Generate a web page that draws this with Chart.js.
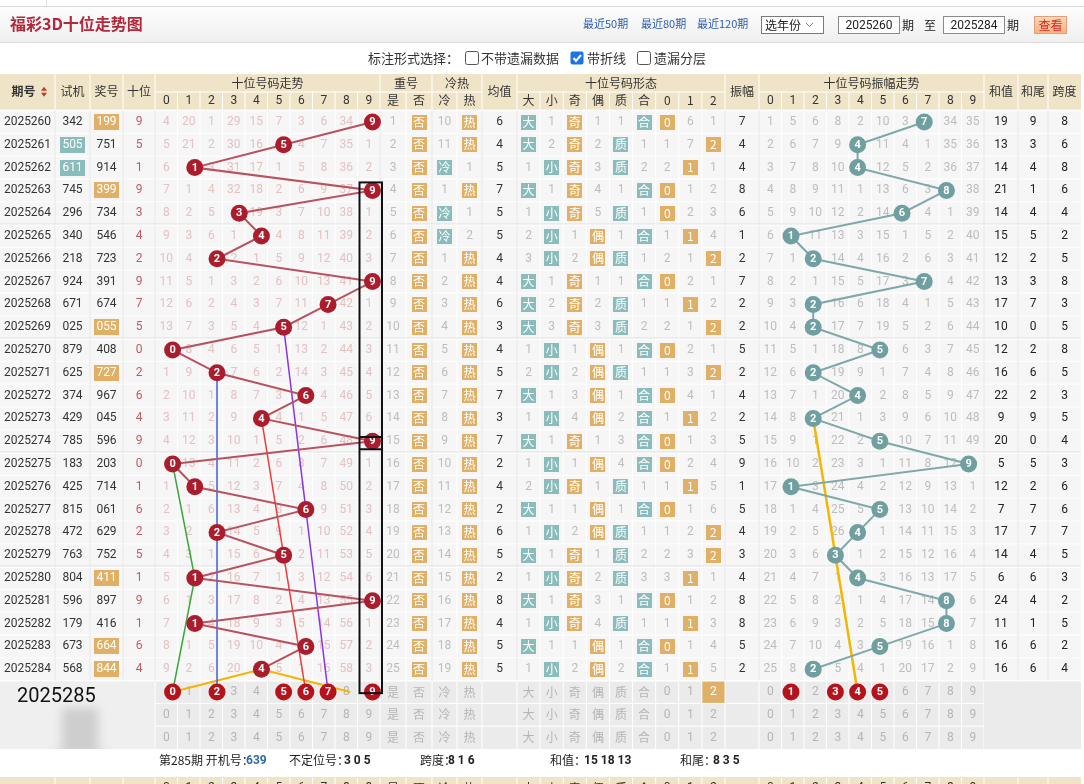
<!DOCTYPE html>
<html lang="zh-CN">
<head>
<meta charset="utf-8">
<title>福彩3D十位走势图</title>
<script src="https://cdn.jsdelivr.net/npm/chart.js@4.4.1/dist/chart.umd.min.js"></script>
<style>
  html, body { margin: 0; padding: 0; background: #fff; overflow: hidden; }
  canvas { display: block; }
</style>
</head>
<body>
<canvas id="trendChart" width="1084" height="784"></canvas>
<script>
// ===== Data =====
const issues = ["2025260","2025261","2025262","2025263","2025264","2025265","2025266","2025267","2025268","2025269",
  "2025270","2025271","2025272","2025273","2025274","2025275","2025276","2025277","2025278","2025279",
  "2025280","2025281","2025282","2025283","2025284"];
const testNums = ["342","505","611","745","296","340","218","924","671","025","879","625","374","429","785",
  "183","425","815","472","763","804","596","179","673","568"];
const drawNums = ["199","751","914","399","734","546","723","391","674","055","408","727","967","045","596",
  "203","714","061","629","752","411","897","416","664","844"];
const testPairRows = [1, 2];
const drawPairRows = [0, 3, 9, 11, 20, 23, 24];
const tens = [9,5,1,9,3,4,2,9,7,5,0,2,6,4,9,0,1,6,2,5,1,9,1,6,4];

// omission counts, 0 = the hit cell (drawn as a circle)
const tensMiss = [
  [4,20,1,29,15,7,3,6,34,0], [5,21,2,30,16,0,4,7,35,1], [6,0,3,31,17,1,5,8,36,2],
  [7,1,4,32,18,2,6,9,37,0], [8,2,5,0,19,3,7,10,38,1], [9,3,6,1,0,4,8,11,39,2],
  [10,4,0,2,1,5,9,12,40,3], [11,5,1,3,2,6,10,13,41,0], [12,6,2,4,3,7,11,0,42,1],
  [13,7,3,5,4,0,12,1,43,2], [0,8,4,6,5,1,13,2,44,3], [1,9,0,7,6,2,14,3,45,4],
  [2,10,1,8,7,3,0,4,46,5], [3,11,2,9,0,4,1,5,47,6], [4,12,3,10,1,5,2,6,48,0],
  [0,13,4,11,2,6,3,7,49,1], [1,0,5,12,3,7,4,8,50,2], [2,1,6,13,4,8,0,9,51,3],
  [3,2,0,14,5,9,1,10,52,4], [4,3,1,15,6,0,2,11,53,5], [5,0,2,16,7,1,3,12,54,6],
  [6,1,3,17,8,2,4,13,55,0], [7,0,4,18,9,3,5,14,56,1], [8,1,5,19,10,4,0,15,57,2],
  [9,2,6,20,0,5,1,16,58,3]
];
const repeatMiss = [1,2,3,4,5,6,7,8,9,10,11,12,13,14,15,16,17,18,19,20,21,22,23,24,25];
const coldMiss = [10,11,0,1,0,0,1,2,3,4,5,6,7,8,9,10,11,12,13,14,15,16,17,18,19];
const hotMiss  = [0,0,1,0,1,2,0,0,0,0,0,0,0,0,0,0,0,0,0,0,0,0,0,0,0];
const avgVals  = [6,4,5,7,5,5,4,4,6,3,4,5,7,3,7,2,4,2,6,5,2,8,4,5,5];
// form columns: 大 小 奇 偶 质 合 0 1 2  (0 = hit)
const bigMiss   = [0,0,1,0,1,2,3,0,0,0,1,2,0,1,0,1,2,0,1,0,1,0,1,0,1];
const smallMiss = [1,2,0,1,0,0,0,1,2,3,0,0,1,0,1,0,0,1,0,1,0,1,0,1,0];
const oddMiss   = [0,0,0,0,0,1,2,0,0,0,1,2,3,4,0,1,0,1,2,0,0,0,0,1,2];
const evenMiss  = [1,2,3,4,5,0,0,1,2,3,0,0,0,0,1,0,1,0,0,1,2,3,4,0,0];
const primeMiss = [1,0,0,1,0,1,0,1,0,0,1,0,1,2,3,4,0,1,0,0,0,1,0,1,2];
const compMiss  = [0,1,2,0,1,0,1,0,1,2,0,1,0,0,0,0,1,0,1,2,3,0,1,0,0];
const r0Miss    = [0,1,2,0,0,1,2,0,1,2,0,1,0,1,0,0,1,0,1,2,3,0,1,0,1];
const r1Miss    = [6,7,0,1,2,0,1,2,0,1,2,3,4,0,1,2,0,1,2,3,0,1,0,1,0];
const r2Miss    = [1,0,1,2,3,4,0,1,2,0,1,0,1,2,3,4,5,6,0,0,1,2,3,4,5];
const amps = [7,4,4,8,6,1,2,7,2,2,5,2,4,2,5,9,1,5,4,3,4,8,8,5,2];
const ampMiss = [
  [1,5,6,8,2,10,3,0,34,35], [2,6,7,9,0,11,4,1,35,36], [3,7,8,10,0,12,5,2,36,37],
  [4,8,9,11,1,13,6,3,0,38], [5,9,10,12,2,14,0,4,1,39], [6,0,11,13,3,15,1,5,2,40],
  [7,1,0,14,4,16,2,6,3,41], [8,2,1,15,5,17,3,0,4,42], [9,3,0,16,6,18,4,1,5,43],
  [10,4,0,17,7,19,5,2,6,44], [11,5,1,18,8,0,6,3,7,45], [12,6,0,19,9,1,7,4,8,46],
  [13,7,1,20,0,2,8,5,9,47], [14,8,0,21,1,3,9,6,10,48], [15,9,1,22,2,0,10,7,11,49],
  [16,10,2,23,3,1,11,8,12,0], [17,0,3,24,4,2,12,9,13,1], [18,1,4,25,5,0,13,10,14,2],
  [19,2,5,26,0,1,14,11,15,3], [20,3,6,0,1,2,15,12,16,4], [21,4,7,1,0,3,16,13,17,5],
  [22,5,8,2,1,4,17,14,0,6], [23,6,9,3,2,5,18,15,0,7], [24,7,10,4,3,0,19,16,1,8],
  [25,8,0,5,4,1,20,17,2,9]
];
const sums = [19,13,14,21,14,15,12,13,17,10,12,16,22,9,20,5,12,7,17,14,6,24,11,16,16];
const sumTails = [9,3,4,1,4,5,2,3,7,0,2,6,2,9,0,5,2,7,7,4,6,4,1,6,6];
const spans = [8,6,8,6,4,2,5,8,3,5,8,5,3,5,4,3,6,6,7,5,3,2,5,2,4];

// prediction row (2025285)
const nextIssue = "2025285";
const predTens = [0,2,5,6,7,9];
const predAmp = [1,3,4,5];
const predRemainder = 2;

// tick / header labels
const digitLabels = ["0","1","2","3","4","5","6","7","8","9"];
const repeatLabels = ["是","否"];
const coldLabels = ["冷","热"];
const formLabels = ["大","小","奇","偶","质","合","0","1","2"];

// hand-drawn guide lines: [digit, row]
const guideBlue   = [[2,11],[2,18],[2,25]];
const guidePurple = [[5,9],[6,17],[7,25]];
const guideRed    = [[4,13],[5,19],[6,25]];
const guideGreen  = [[0,15],[1,20],[0,25]];
const guideOrange = [[0,25],[4,24],[8,25]];
const guideAmp    = [[2,13],[3,19],[4,25]];

// ===== Layout =====
const W = 1084, H = 784, TABLE_W = 1081;
const TOP = 110.6, ROW_H = 22.8, ROWS = 28;
const FONT = "Roboto, 'Noto Sans CJK SC', sans-serif";
const CJK = "'Noto Sans CJK SC', sans-serif";
const colW = [55, 35, 33, 32]
  .concat(Array(10).fill(22.5), [26, 26, 25, 25, 35], Array(9).fill(208 / 9), [34], Array(10).fill(22.5), [34, 30, 33]);
const colX = [0];
colW.forEach(w => colX.push(colX[colX.length - 1] + w));
const TREND0 = 4, REP0 = 14, COLD0 = 16, AVG = 18, FORM0 = 19, AMP = 28, AMP0 = 29, SUM = 39, TAIL = 40, SPAN = 41;
const groupEdges = [1, 2, 3, 4, 14, 16, 18, 19, 28, 29, 39, 40, 41];
const cx = i => (colX[i] + colX[i + 1]) / 2;

const ORANGE = "#e0b066", TEAL = "#8bbcbc";

function txt(ctx, s, x, y, font, color, align) {
  ctx.font = font;
  ctx.fillStyle = color;
  ctx.textAlign = align || "center";
  ctx.textBaseline = "middle";
  ctx.fillText(s, x, y);
}
function box(ctx, x, y, w, h, color) {
  ctx.fillStyle = color;
  ctx.fillRect(Math.round(x - w / 2), Math.round(y - h / 2), w, h);
}

function drawPageTop(ctx) {
  ctx.fillStyle = "#fff";
  ctx.fillRect(0, 0, W, 74);
  ctx.fillStyle = "#ddd";
  ctx.fillRect(46, 0, 1, 6);
  // title bar
  const g = ctx.createLinearGradient(0, 6, 0, 43);
  g.addColorStop(0, "#fdfdfd");
  g.addColorStop(1, "#efefef");
  ctx.fillStyle = g;
  ctx.fillRect(0, 6, W, 37);
  ctx.fillStyle = "#dcdcdc";
  ctx.fillRect(0, 6, W, 1);
  ctx.fillRect(0, 42, W, 1);
  txt(ctx, "福彩3D十位走势图", 10, 24, "bold 16px " + CJK, "#b3283a", "left");
  ["最近50期", "最近80期", "最近120期"].forEach((s, i) => txt(ctx, s, [583, 641, 697][i], 24, "11px " + CJK, "#2b5cab", "left"));
  // select
  ctx.strokeStyle = "#7a7a7a"; ctx.lineWidth = 1;
  ctx.fillStyle = "#fff";
  ctx.fillRect(761, 16, 62, 17);
  ctx.strokeRect(761.5, 16.5, 62, 17);
  txt(ctx, "选年份", 765, 25, "12px " + CJK, "#222", "left");
  ctx.strokeStyle = "#777";
  ctx.beginPath(); ctx.moveTo(806, 23); ctx.lineTo(809.5, 26.5); ctx.lineTo(813, 23); ctx.stroke();
  // period inputs
  ctx.fillStyle = "#fff";
  ctx.fillRect(838, 16, 62, 18); ctx.fillRect(943, 16, 62, 18);
  ctx.strokeStyle = "#8a8a8a";
  ctx.strokeRect(838.5, 16.5, 61, 17); ctx.strokeRect(943.5, 16.5, 61, 17);
  txt(ctx, issues[0], 869, 25.5, "12px " + FONT, "#222");
  txt(ctx, issues[issues.length - 1], 974, 25.5, "12px " + FONT, "#222");
  txt(ctx, "期", 908, 25, "12px " + CJK, "#222");
  txt(ctx, "至", 930, 25, "12px " + CJK, "#222");
  txt(ctx, "期", 1013, 25, "12px " + CJK, "#222");
  // button
  const bg = ctx.createLinearGradient(0, 16, 0, 34);
  bg.addColorStop(0, "#fcd9b4"); bg.addColorStop(1, "#f6b27c");
  ctx.fillStyle = bg; ctx.fillRect(1034, 16, 33, 18);
  ctx.strokeStyle = "#e0a080"; ctx.strokeRect(1034.5, 16.5, 32, 17);
  txt(ctx, "查看", 1050.5, 25, "12px " + CJK, "#d8262c");
  // options row
  txt(ctx, "标注形式选择：", 368, 58, "13px " + CJK, "#333", "left");
  const cb = (x, checked) => {
    ctx.beginPath();
    ctx.roundRect(x + 0.5, 51.5, 13, 13, 2);
    if (checked) {
      ctx.fillStyle = "#1a73e8"; ctx.fill();
      ctx.strokeStyle = "#fff"; ctx.lineWidth = 2;
      ctx.beginPath(); ctx.moveTo(x + 3.5, 58); ctx.lineTo(x + 6, 61); ctx.lineTo(x + 11, 55); ctx.stroke();
      ctx.lineWidth = 1;
    } else {
      ctx.fillStyle = "#fff"; ctx.fill();
      ctx.strokeStyle = "#555"; ctx.stroke();
    }
  };
  cb(465, false); txt(ctx, "不带遗漏数据", 481, 58, "13px " + CJK, "#333", "left");
  cb(570, true);  txt(ctx, "带折线", 587, 58, "13px " + CJK, "#333", "left");
  cb(637, false); txt(ctx, "遗漏分层", 654, 58, "13px " + CJK, "#333", "left");
}

function drawHeader(ctx) {
  const top = 74, mid = 92, bot = TOP - 1;
  ctx.fillStyle = "#efe4c8";
  ctx.fillRect(0, top, TABLE_W, bot - top);
  ctx.fillStyle = "#fff";
  for (let i = 1; i < colX.length - 1; i++) {
    const inGroup = (i > TREND0 && i < REP0) || i === REP0 + 1 || i === COLD0 + 1 || (i > FORM0 && i < AMP) || (i > AMP0 && i < SUM);
    ctx.fillRect(colX[i] - 0.5, inGroup ? mid : top, 1, inGroup ? bot - mid : bot - top);
  }
  [[TREND0, REP0], [REP0, COLD0], [COLD0, AVG], [FORM0, AMP], [AMP0, SUM]].forEach(([a, b]) => {
    ctx.fillRect(colX[a], mid - 0.5, colX[b] - colX[a], 1);
  });
  const f = "12px " + CJK, c = "#333", ym = (top + bot) / 2, y1 = (top + mid) / 2 + 0.5, y2 = (mid + bot) / 2;
  txt(ctx, "期号", cx(0) - 4, ym, "bold 12px " + CJK, c);
  ctx.fillStyle = "#c0392b";
  ctx.beginPath(); ctx.moveTo(41, ym - 1); ctx.lineTo(44, ym - 5); ctx.lineTo(47, ym - 1); ctx.fill();
  ctx.beginPath(); ctx.moveTo(41, ym + 1); ctx.lineTo(44, ym + 5); ctx.lineTo(47, ym + 1); ctx.fill();
  txt(ctx, "试机", cx(1), ym, f, c);
  txt(ctx, "奖号", cx(2), ym, f, c);
  txt(ctx, "十位", cx(3), ym, f, c);
  txt(ctx, "十位号码走势", (colX[TREND0] + colX[REP0]) / 2, y1, f, c);
  txt(ctx, "重号", (colX[REP0] + colX[COLD0]) / 2, y1, f, c);
  txt(ctx, "冷热", (colX[COLD0] + colX[AVG]) / 2, y1, f, c);
  txt(ctx, "均值", cx(AVG), ym, f, c);
  txt(ctx, "十位号码形态", (colX[FORM0] + colX[AMP]) / 2, y1, f, c);
  txt(ctx, "振幅", cx(AMP), ym, f, c);
  txt(ctx, "十位号码振幅走势", (colX[AMP0] + colX[SUM]) / 2, y1, f, c);
  txt(ctx, "和值", cx(SUM), ym, f, c);
  txt(ctx, "和尾", cx(TAIL), ym, f, c);
  txt(ctx, "跨度", cx(SPAN), ym, f, c);
  digitLabels.forEach((s, i) => {
    txt(ctx, s, cx(TREND0 + i), y2, "12px " + FONT, c);
    txt(ctx, s, cx(AMP0 + i), y2, "12px " + FONT, c);
  });
  repeatLabels.forEach((s, i) => txt(ctx, s, cx(REP0 + i), y2, f, c));
  coldLabels.forEach((s, i) => txt(ctx, s, cx(COLD0 + i), y2, f, c));
  formLabels.forEach((s, i) => txt(ctx, s, cx(FORM0 + i), y2, f, c));
}

function gridLines(ctx, y0, y1, bg, line) {
  ctx.fillStyle = bg;
  ctx.fillRect(0, y0, TABLE_W, y1 - y0);
  ctx.fillStyle = line;
  for (let i = 1; i < colX.length - 1; i++) ctx.fillRect(colX[i] - 0.5, y0, 1, y1 - y0);
}

function drawBody(ctx, ys) {
  const yTop = ys.getPixelForValue(0), yEnd = ys.getPixelForValue(issues.length);
  gridLines(ctx, yTop, yEnd, "#f6f6f6", "#ffffff");
  ctx.fillStyle = "#fff";
  for (let r = 0; r <= issues.length; r++) ctx.fillRect(0, ys.getPixelForValue(r) - 0.5, TABLE_W, 1);
  ctx.fillStyle = "#e3e3e3";
  groupEdges.forEach(i => ctx.fillRect(colX[i] - 0.5, yTop, 1, yEnd - yTop));
  for (let r = 5; r < issues.length; r += 5) {
    const y = ys.getPixelForValue(r);
    ctx.fillStyle = "#dadada"; ctx.fillRect(0, y - 1, TABLE_W, 1);
    ctx.fillStyle = "#fff"; ctx.fillRect(0, y, TABLE_W, 1);
  }

  const fNum = "12px " + FONT, fCjk = "12px " + CJK;
  const miss = "#bdbdbd", pink = "#e3c2c2", dark = "#333";
  const hl = (r, col, arr, label, color) => {
    const y = ys.getPixelForValue(r + 0.5);
    if (arr[r] === 0) {
      box(ctx, cx(col), y, 15, 15, color);
      txt(ctx, label, cx(col), y, fCjk, "#fff");
    } else {
      txt(ctx, String(arr[r]), cx(col), y, fNum, miss);
    }
  };
  issues.forEach((iss, r) => {
    const y = ys.getPixelForValue(r + 0.5);
    txt(ctx, iss, cx(0), y, fNum, dark);
    if (testPairRows.includes(r)) { box(ctx, cx(1), y, 25, 16, TEAL); txt(ctx, testNums[r], cx(1), y, fNum, "#fff"); }
    else txt(ctx, testNums[r], cx(1), y, fNum, dark);
    if (drawPairRows.includes(r)) { box(ctx, cx(2), y, 25, 16, ORANGE); txt(ctx, drawNums[r], cx(2), y, fNum, "#fff"); }
    else txt(ctx, drawNums[r], cx(2), y, fNum, dark);
    txt(ctx, String(tens[r]), cx(3), y, fNum, "#c25a66");
    tensMiss[r].forEach((v, d) => { if (v !== 0) txt(ctx, String(v), cx(TREND0 + d), y, fNum, pink); });
    txt(ctx, String(repeatMiss[r]), cx(REP0), y, fNum, miss);
    box(ctx, cx(REP0 + 1), y, 15, 15, ORANGE); txt(ctx, "否", cx(REP0 + 1), y, fCjk, "#fff");
    hl(r, COLD0, coldMiss, "冷", TEAL);
    hl(r, COLD0 + 1, hotMiss, "热", ORANGE);
    txt(ctx, String(avgVals[r]), cx(AVG), y, fNum, dark);
    hl(r, FORM0, bigMiss, "大", TEAL);
    hl(r, FORM0 + 1, smallMiss, "小", TEAL);
    hl(r, FORM0 + 2, oddMiss, "奇", ORANGE);
    hl(r, FORM0 + 3, evenMiss, "偶", ORANGE);
    hl(r, FORM0 + 4, primeMiss, "质", TEAL);
    hl(r, FORM0 + 5, compMiss, "合", TEAL);
    hl(r, FORM0 + 6, r0Miss, "0", ORANGE);
    hl(r, FORM0 + 7, r1Miss, "1", ORANGE);
    hl(r, FORM0 + 8, r2Miss, "2", ORANGE);
    txt(ctx, String(amps[r]), cx(AMP), y, fNum, dark);
    ampMiss[r].forEach((v, d) => { if (v !== 0) txt(ctx, String(v), cx(AMP0 + d), y, fNum, miss); });
    txt(ctx, String(sums[r]), cx(SUM), y, fNum, "#222");
    txt(ctx, String(sumTails[r]), cx(TAIL), y, fNum, "#222");
    txt(ctx, String(spans[r]), cx(SPAN), y, fNum, "#222");
  });
}

function drawBottom(ctx, ys) {
  const n = issues.length;
  const y0 = ys.getPixelForValue(n) + 1, y3 = ys.getPixelForValue(n + 3);
  gridLines(ctx, y0, y3, "#ebebeb", "#ffffff");
  ctx.fillStyle = "#fff";
  for (let r = n + 1; r < n + 3; r++) ctx.fillRect(colX[TREND0], ys.getPixelForValue(r) - 0.5, colX[SUM] - colX[TREND0], 1);
  // merged cells left and right
  ctx.fillStyle = "#efefef";
  ctx.fillRect(0, y0, colX[TREND0] - 1, y3 - y0);
  ctx.fillStyle = "#ebebeb";
  ctx.fillRect(colX[SUM], y0, TABLE_W - colX[SUM], y3 - y0);
  ctx.save();
  ctx.filter = "blur(5px)";
  ctx.fillStyle = "rgba(195,195,195,0.75)";
  ctx.fillRect(62, 708, 36, 50);
  ctx.fillStyle = "rgba(222,216,202,0.8)";
  ctx.fillRect(55, 750, 50, 14);
  ctx.restore();
  txt(ctx, nextIssue, 17, ys.getPixelForValue(n + 0.5) + 5, "20px " + FONT, "#111", "left");

  const g = "#b5b5b5", fNum = "12px " + FONT, fCjk = "12px " + CJK;
  for (let k = 0; k < 3; k++) {
    const y = ys.getPixelForValue(n + k + 0.5);
    digitLabels.forEach((s, i) => {
      if (!(k === 0 && predTens.includes(i))) txt(ctx, s, cx(TREND0 + i), y, fNum, g);
      if (!(k === 0 && predAmp.includes(i))) txt(ctx, s, cx(AMP0 + i), y, fNum, g);
    });
    repeatLabels.forEach((s, i) => txt(ctx, s, cx(REP0 + i), y, fCjk, g));
    coldLabels.forEach((s, i) => txt(ctx, s, cx(COLD0 + i), y, fCjk, g));
    formLabels.forEach((s, i) => {
      const col = FORM0 + i;
      if (k === 0 && i === 6 + predRemainder) {
        ctx.fillStyle = ORANGE;
        ctx.fillRect(colX[col] + 0.5, ys.getPixelForValue(n) + 1, colW[col] - 1, ys.getPixelForValue(n + 1) - ys.getPixelForValue(n) - 1.5);
        txt(ctx, s, cx(col), y, fNum, "#fff");
      } else txt(ctx, s, cx(col), y, /\d/.test(s) ? fNum : fCjk, g);
    });
  }
  // summary row
  const ys4 = y3 + 11.5;
  ctx.fillStyle = "#fff";
  ctx.fillRect(0, y3, W, 24);
  const b = "bold 12px " + FONT;
  txt(ctx, "第285期 开机号：", 159, ys4, "12px " + CJK, "#222", "left");
  txt(ctx, "639", 246, ys4, b, "#2d6aa6", "left");
  txt(ctx, "不定位号：", 289, ys4, "12px " + CJK, "#222", "left");
  txt(ctx, "3 0 5", 344, ys4, b, "#222", "left");
  txt(ctx, "跨度：", 420, ys4, "12px " + CJK, "#222", "left");
  txt(ctx, "8 1 6", 448, ys4, b, "#222", "left");
  txt(ctx, "和值：", 550, ys4, "12px " + CJK, "#222", "left");
  txt(ctx, "15 18 13", 584, ys4, b, "#222", "left");
  txt(ctx, "和尾：", 680, ys4, "12px " + CJK, "#222", "left");
  txt(ctx, "8 3 5", 713, ys4, b, "#222", "left");
  // next header band (cut off)
  ctx.fillStyle = "#efe4c8";
  ctx.fillRect(0, 777, TABLE_W, 10);
  ctx.fillStyle = "#fff";
  for (let i = 1; i < colX.length - 1; i++) ctx.fillRect(colX[i] - 0.5, 777, 1, 10);
  digitLabels.forEach((s, i) => { txt(ctx, s, cx(TREND0 + i), 788, fNum, "#333"); txt(ctx, s, cx(AMP0 + i), 788, fNum, "#333"); });
  formLabels.forEach((s, i) => txt(ctx, s, cx(FORM0 + i), 788, /\d/.test(s) ? fNum : fCjk, "#333"));
  repeatLabels.forEach((s, i) => txt(ctx, s, cx(REP0 + i), 788, fCjk, "#333"));
  coldLabels.forEach((s, i) => txt(ctx, s, cx(COLD0 + i), 788, fCjk, "#333"));
}

const trendTable = {
  id: "trendTable",
  beforeDatasetsDraw(chart) {
    const ctx = chart.ctx, ys = chart.scales.y;
    ctx.save();
    drawPageTop(ctx);
    drawHeader(ctx);
    drawBody(ctx, ys);
    drawBottom(ctx, ys);
    ctx.restore();
  },
  afterDatasetsDraw(chart) {
    const ctx = chart.ctx, ys = chart.scales.y;
    ctx.save();
    chart.data.datasets.forEach((ds, di) => {
      if (!ds.digits) return;
      chart.getDatasetMeta(di).data.forEach((pt, i) => {
        txt(ctx, String(ds.digits[i]), pt.x, pt.y + 0.5, "bold 11px " + FONT, "#fff");
      });
    });
    // black frame round the 9 column
    const l = colX[TREND0 + 9] + 2, r = colX[REP0] + 2;
    const yA = ys.getPixelForValue(3.15), yB = ys.getPixelForValue(14.32), yC = ys.getPixelForValue(14.85), yD = ys.getPixelForValue(25.55);
    ctx.strokeStyle = "#111";
    ctx.lineWidth = 2;
    ctx.strokeRect(l, yA, r - l, yD - yA);
    ctx.beginPath();
    ctx.moveTo(l, yB); ctx.lineTo(r, yB);
    ctx.moveTo(l, yC); ctx.lineTo(r, yC);
    ctx.stroke();
    ctx.restore();
  }
};

// ===== Chart =====
const trendPt = (d, row) => ({ x: cx(TREND0 + d), y: row + 0.5 });
const ampPt = (d, row) => ({ x: cx(AMP0 + d), y: row + 0.5 });
const guide = (pts, color, width, amp) => ({
  data: pts.map(([d, r]) => (amp ? ampPt(d, r) : trendPt(d, r))),
  borderColor: color, borderWidth: width, pointRadius: 0, fill: false
});
const circleSet = (pts, digits, color, lineColor) => ({
  data: pts,
  digits: digits,
  showLine: !!lineColor,
  borderColor: lineColor || color,
  borderWidth: 2,
  pointRadius: 8.5,
  pointBackgroundColor: color,
  pointBorderColor: color,
  pointBorderWidth: 0,
  fill: false
});

new Chart(document.getElementById("trendChart"), {
  type: "line",
  data: {
    datasets: [
      circleSet(predTens.map(d => trendPt(d, issues.length)), predTens, "#b5121b"),
      circleSet(predAmp.map(d => ampPt(d, issues.length)), predAmp, "#b5121b"),
      circleSet(tens.map((d, r) => trendPt(d, r)), tens, "#ab1d2d", "#b9515f"),
      circleSet(amps.map((d, r) => ampPt(d, r)), amps, "#6f9fa0", "#7ea8a9"),
      guide(guideBlue, "#3d5fe0", 1.5),
      guide(guidePurple, "#8a33e6", 1.5),
      guide(guideRed, "#ee3b3b", 1.5),
      guide(guideGreen, "#3aa83a", 1.5),
      guide(guideOrange, "#f5b400", 2),
      guide(guideAmp, "#f2b705", 2.5, true)
    ]
  },
  options: {
    responsive: false,
    animation: false,
    devicePixelRatio: 1,
    layout: { padding: { top: TOP, bottom: H - TOP - ROWS * ROW_H, left: 0, right: W - TABLE_W } },
    scales: {
      x: { type: "linear", min: 0, max: TABLE_W, display: false },
      y: { type: "linear", min: 0, max: ROWS, reverse: true, display: false }
    },
    elements: { line: { tension: 0 } },
    plugins: { legend: { display: false }, tooltip: { enabled: false } }
  },
  plugins: [trendTable]
});
</script>
</body>
</html>
